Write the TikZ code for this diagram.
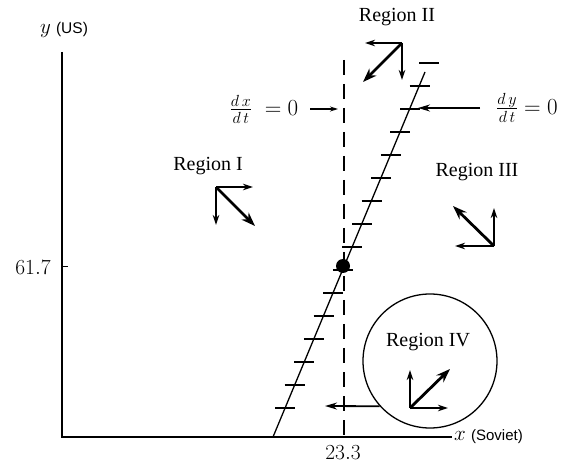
\RequirePackage{fix-cm}
\documentclass[tikz,border=0pt]{standalone}
\usepackage[no-math]{fontspec}
\setmainfont{Liberation Serif}
\newfontfamily\hvfont{Liberation Sans}
\usetikzlibrary{arrows.meta}
\begin{document}
\begin{tikzpicture}[x=1pt,y=-1pt,
  thinarrow/.style={line width=1.3pt,-{Stealth[length=10pt,width=6.5pt]}},
  thickarrow/.style={line width=2.8pt,-{Stealth[length=14pt,width=10pt]}},
  axisline/.style={line width=1.4pt},
  lbl/.style={font=\fontsize{20}{24}\selectfont, inner sep=0pt},
  mathlbl/.style={font=\fontsize{23}{27}\selectfont, inner sep=0pt},
  numlbl/.style={font=\fontsize{21.5}{25}\selectfont, inner sep=0pt},
  sanslbl/.style={font=\fontsize{21}{24}\selectfont, inner sep=0pt}]
\useasboundingbox (0,0) rectangle (565,470);
% axes
\coordinate (ytop) at (62,52);
\coordinate (orig) at (62,437);
\coordinate (xend) at (452,437);
\draw[axisline] (ytop) -- (orig) -- (xend);
\coordinate (yt) at (62,267);
\coordinate (yt2) at (68,267);
\draw[line width=1pt] (yt) -- (yt2);
\node[sanslbl] (ylab) at (64,30) {$y$ {\hvfont\fontsize{15.5}{18}\selectfont (US)}};
\node[sanslbl, anchor=west] (xlab) at (454,437) {$x$ {\hvfont\fontsize{15}{18}\selectfont (Soviet)}};
\node[numlbl] (n617) at (33,268) {$61.7$};
\node[numlbl] (n233) at (343,453) {$23.3$};
% dashed dx/dt=0
\coordinate (dtop) at (344,60);
\coordinate (dbot) at (344,437);
\draw[line width=1.2pt, dash pattern=on 15pt off 9pt] (dtop) -- (dbot);
% steep line dy/dt=0
\coordinate (l0) at (273,437);
\coordinate (l1) at (425,72);
\draw[line width=1.3pt] (l0) -- (l1);
\foreach \k in {0,...,15} {
  \pgfmathsetmacro{\yy}{408-23*\k}
  \pgfmathsetmacro{\xx}{273+(437-\yy)*0.418}
  \draw[line width=1.2pt] (\xx-10,\yy) -- (\xx+10,\yy);
}
\fill (343,266) circle (7pt);
% labels for isoclines
\node[mathlbl] (dxl) at (264,109) {$\frac{d\,x}{d\,t}\;= 0$};
\coordinate (dxs) at (310,109);
\coordinate (dxa) at (338,109);
\draw[line width=1.1pt,-{Stealth[length=8pt,width=5pt]}] (dxs) -- (dxa);
\node[mathlbl] (dyl) at (527,108) {$\frac{d\,y}{d\,t} = 0$};
\coordinate (dys) at (480,108);
\coordinate (dya) at (418,108);
\draw[line width=1.8pt,-{Stealth[length=12pt,width=7pt]}] (dys) -- (dya);
% Region I
\node[lbl] (r1) at (208,166) {Region I};
\coordinate (o1) at (216,187);
\coordinate (o1r) at (253,187);
\coordinate (o1d) at (216,225);
\coordinate (o1x) at (255,226);
\draw[thinarrow] (o1) -- (o1r);
\draw[thinarrow] (o1) -- (o1d);
\draw[thickarrow] (o1) -- (o1x);
% Region II
\node[lbl] (r2) at (397,17) {Region II};
\coordinate (o2) at (402,43);
\coordinate (o2l) at (365,43);
\coordinate (o2d) at (402,80);
\coordinate (o2x) at (363,82);
\draw[thinarrow] (o2) -- (o2l);
\draw[thinarrow] (o2) -- (o2d);
\draw[thickarrow] (o2) -- (o2x);
% Region III
\node[lbl] (r3) at (477,172) {Region III};
\coordinate (o3) at (494,246);
\coordinate (o3u) at (494,208);
\coordinate (o3l) at (455,246);
\coordinate (o3x) at (453,206);
\draw[thinarrow] (o3) -- (o3u);
\draw[thinarrow] (o3) -- (o3l);
\draw[thickarrow] (o3) -- (o3x);
% Region IV
\node[circle, draw, line width=1.3pt, minimum size=134pt, inner sep=0pt] (c4) at (430,361) {};
\node[lbl] (r4) at (428,342) {Region IV};
\coordinate (o4) at (410,408);
\coordinate (o4u) at (410,370);
\coordinate (o4r) at (448,408);
\coordinate (o4x) at (450,369);
\draw[thinarrow] (o4) -- (o4u);
\draw[thinarrow] (o4) -- (o4r);
\draw[thickarrow] (o4) -- (o4x);
\coordinate (a4) at (325,406);
\draw[line width=1.8pt,-{Stealth[length=12pt,width=7pt]}] (c4.222) -- (a4);
\end{tikzpicture}
\end{document}
